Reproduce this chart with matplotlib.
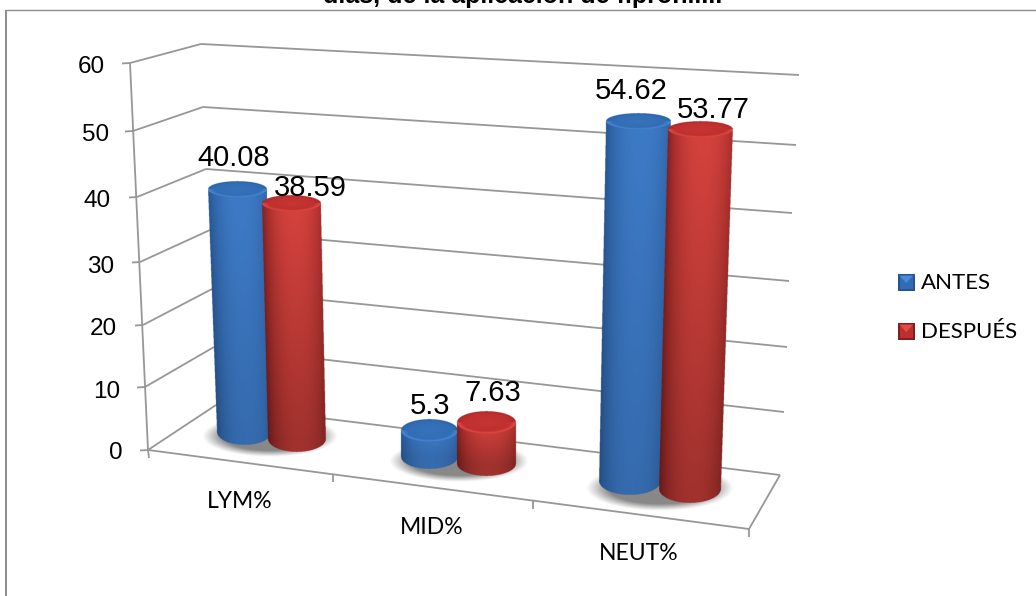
import numpy as np
import matplotlib
matplotlib.use("Agg")
import matplotlib.pyplot as plt
from matplotlib.patches import Polygon

# Data
categories = ["LYM%", "MID%", "NEUT%"]
series_names = ["ANTES", "DESPUÉS"]
antes = [40.08, 5.3, 54.62]
despues = [38.59, 7.63, 53.77]
y_ticks = [0, 10, 20, 30, 40, 50, 60]
title_text = "días, de la aplicación de fipronil..."

# Layout in pixels
W, H = 1036, 596
GRID = "#979797"
front_axis = [(148, 450), (145, 387), (143, 325), (140, 262), (137, 197), (133, 131), (130, 63)]
back_left = [(216, 405), (214, 347), (212, 289), (210, 230), (206, 169), (203, 107), (201, 44)]
back_right = [(780, 475), (784, 412), (787, 347), (789, 281), (792, 213), (796, 145), (799, 75)]
tick_label_pos = [(123, 453), (120, 392), (117, 329), (114, 267), (111, 201), (109, 135), (105, 67)]
category_pos = [(240, 502), (432, 527), (639, 554)]

# Per-bar projection: (base left, base right, base y, top left, top right, px per unit, base ry, top ry)
geom = {
    ("ANTES", 0): (217, 272, 432, 208, 267, 6.04, 13, 8),
    ("DESPUÉS", 0): (268, 326, 439, 262, 321, 6.10, 13, 8),
    ("ANTES", 1): (401, 458, 457, 401, 458, 4.95, 12, 11),
    ("DESPUÉS", 1): (457, 516, 464, 457, 516, 5.40, 12, 11),
    ("ANTES", 2): (599, 661, 481, 606, 671, 6.59, 14, 8),
    ("DESPUÉS", 2): (659, 721, 489, 668, 733, 6.68, 14, 8),
}
label_pos = {
    ("ANTES", 0): (234, 158), ("DESPUÉS", 0): (310, 188),
    ("ANTES", 1): (430, 406), ("DESPUÉS", 1): (493, 393),
    ("ANTES", 2): (631, 91), ("DESPUÉS", 2): (713, 110),
}
shadows = [(270, 436, 68, 21), (459, 461, 70, 21), (660, 488, 74, 23)]

palette = {
    "ANTES": dict(dark=(0.15, 0.33, 0.56), light=(0.24, 0.48, 0.78),
                  cap=(0.19, 0.42, 0.70), rim=(0.29, 0.54, 0.84)),
    "DESPUÉS": dict(dark=(0.50, 0.12, 0.12), light=(0.84, 0.26, 0.24),
                    cap=(0.74, 0.18, 0.18), rim=(0.89, 0.30, 0.27)),
}

fig = plt.figure(figsize=(W / 100, H / 100), dpi=100, facecolor="white")
ax = fig.add_axes([0, 0, 1, 1])
ax.axis("off")


def line(p, q, color=GRID, lw=1.3, z=1):
    ax.plot([p[0], q[0]], [p[1], q[1]], color=color, lw=lw, solid_capstyle="butt", zorder=z)


def shadow(cx, cy, rx, ry):
    xs = np.linspace(cx - rx, cx + rx, 240)
    ys = np.linspace(cy - ry, cy + ry, 100)
    X, Y = np.meshgrid(xs, ys)
    d = np.sqrt(((X - cx) / rx) ** 2 + ((Y - cy) / ry) ** 2)
    a = np.clip((1 - d) / 0.30, 0, 1) ** 1.1 * 0.75
    img = np.zeros(X.shape + (4,))
    img[..., :3] = 0.38
    img[..., 3] = a
    ax.imshow(img, extent=(cx - rx, cx + rx, cy + ry, cy - ry), aspect="auto", zorder=2,
              interpolation="bilinear")


def cylinder(name, idx, value, z):
    bl, br, by, tl, tr, ppu, rb, rt = geom[(name, idx)]
    col = palette[name]
    ty = by - value * ppu
    x0, x1 = min(bl, tl) - 2, max(br, tr) + 2
    y0, y1 = ty - rt - 2, by + rb + 2
    ss = 4
    nx, ny = int((x1 - x0) * ss), int((y1 - y0) * ss)
    X, Y = np.meshgrid(np.linspace(x0, x1, nx), np.linspace(y0, y1, ny))
    t = np.clip((Y - ty) / max(by - ty, 1), 0, 1)
    xl = tl + (bl - tl) * t
    xr = tr + (br - tr) * t
    u = (X - xl) / (xr - xl)
    w = (xr - xl) / 2
    cx = (xl + xr) / 2

    # Body: sides fall off to dark, with the lower part a little deeper
    inside = (u >= 0) & (u <= 1)
    low = np.sqrt(np.clip(1 - ((X - cx) / w) ** 2, 0, 1)) * rb
    mask = inside & (Y >= ty) & (Y <= by + low)
    shade = np.clip(1 - (np.abs(u - 0.55) / 0.55) ** 2.2, 0, 1) ** 0.75
    dim = 1 - (0.12 if name == "ANTES" else 0.25) * t
    rgb = np.zeros(X.shape + (3,))
    for c in range(3):
        rgb[..., c] = (col["dark"][c] + (col["light"][c] - col["dark"][c]) * shade) * dim

    # Cap: flat fill with a bevelled rim catching the light along its lower edge
    rx = (tr - tl) / 2
    ccx = (tl + tr) / 2
    d = np.sqrt(((X - ccx) / rx) ** 2 + ((Y - ty) / rt) ** 2)
    cap = d <= 1
    for c in range(3):
        fill = col["cap"][c] + (col["rim"][c] - col["cap"][c]) * 0.25 * (1 - d)
        rim = np.where(Y > ty, col["rim"][c], col["cap"][c] * 0.92)
        edge = np.clip((d - 0.78) / 0.22, 0, 1)
        rgb[..., c] = np.where(cap, fill + (rim - fill) * edge, rgb[..., c])
    alpha = (mask | cap).astype(float)
    img = np.dstack([rgb, alpha])
    ax.imshow(img, extent=(x0, x1, y1, y0), aspect="auto", zorder=z, interpolation="antialiased")
    return ty


def swatch(x, y, s, name):
    col = palette[name]
    ax.add_patch(Polygon([(x, y), (x + s, y), (x + s, y + s), (x, y + s)],
                         fc=col["dark"], ec="none", zorder=6))
    ax.add_patch(Polygon([(x + 1.5, y + 1.5), (x + s - 1.5, y + 1.5), (x + s - 1.5, y + s - 2), (x + 1.5, y + s - 2)],
                         fc=col["cap"], ec="none", zorder=6.1))
    ax.add_patch(Polygon([(x + 1.5, y + 1.5), (x + s - 1.5, y + 1.5), (x + s / 2, y + s * 0.55)],
                         fc=col["rim"], ec="none", zorder=6.2))


# Chart frame (top and left edges are inside the canvas)
line((5.5, 596), (5.5, 9.5), color="#8c8c8c", lw=1.4)
line((5, 9.5), (W, 9.5), color="#8c8c8c", lw=1.0)

# Walls and floor
for tick, f, bl, br in zip(y_ticks, front_axis, back_left, back_right):
    line(f, bl)
    line(bl, br)
    line((f[0] - 8, f[1] + 0.5), f)
line(front_axis[0], front_axis[-1])
floor_right = (749, 529)
line(front_axis[0], floor_right)
line(floor_right, back_right[0])
line(front_axis[0], (149, 458))
for p in [(333, 474), (533, 501), floor_right]:
    line(p, (p[0], p[1] + 8))

for s in shadows:
    shadow(*s)

# Bars, blue behind red in each group
for i in range(len(categories)):
    cylinder("ANTES", i, antes[i], 3 + i * 0.1)
    cylinder("DESPUÉS", i, despues[i], 3.05 + i * 0.1)

# Value labels
for i in range(len(categories)):
    for name, vals in zip(series_names, (antes, despues)):
        x, y = label_pos[(name, i)]
        ax.text(x, y, f"{vals[i]:g}", ha="center", va="center", fontsize=21,
                family="Liberation Sans", color="black", zorder=7)

for tick, (x, y) in zip(y_ticks, tick_label_pos):
    ax.text(x, y, str(tick), ha="right", va="center", fontsize=17.5,
            family="Liberation Sans", color="black", zorder=7)

for cat, (x, y) in zip(categories, category_pos):
    ax.text(x, y, cat, ha="center", va="center", fontsize=16.5, family="Lato", color="black", zorder=7)

# Legend
for name, y in zip(series_names, (274, 323)):
    swatch(898, y, 16.5, name)
    ax.text(921, y + 9, name, ha="left", va="center", fontsize=16, family="Lato", color="black", zorder=7)

# Title, cut by the top edge of the canvas
ax.text(523, 3.5, title_text, ha="center", va="baseline", fontsize=18, fontweight="bold",
        family="Liberation Sans", color="black", zorder=7)

ax.set_xlim(0, W)
ax.set_ylim(H, 0)
fig.savefig("out.png", dpi=100, facecolor="white")
